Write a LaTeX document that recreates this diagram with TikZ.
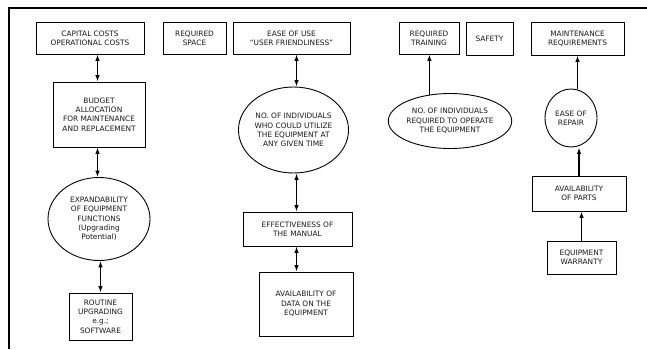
\documentclass[tikz,border=0pt]{standalone}
\usepackage{fontspec}
\setmainfont{DejaVu Sans}
\usetikzlibrary{shapes.geometric,arrows.meta}
\begin{document}
\begin{tikzpicture}[x=1pt,y=-1pt,
  lbl/.style={font=\fontsize{7.4}{9.3}\selectfont, align=center, inner sep=0pt, text=black!90},
  boxnode/.style={lbl, draw, line width=0.9pt, rectangle},
  ellnode/.style={lbl, draw, line width=0.9pt, ellipse},
  tip/.tip={Latex[length=6.5pt,width=4.6pt]},
  dbl/.style={line width=1.3pt, tip-tip},
  one/.style={line width=1.3pt, -tip}]
\useasboundingbox (0,0) rectangle (647,349);
\fill[white] (0,0) rectangle (647,349);
% frame
\draw[line width=2pt] (9,349) -- (9,8) -- (647,8);
% top row
\node[boxnode, minimum width=108pt, minimum height=32pt] (cap) at (90,38) {CAPITAL COSTS\\OPERATIONAL COSTS};
\node[boxnode, minimum width=63pt, minimum height=32pt] (space) at (194.5,38) {REQUIRED\\SPACE};
\node[boxnode, minimum width=117pt, minimum height=32pt] (ease) at (291.5,38) {EASE OF USE\\``USER FRIENDLINESS''};
\node[boxnode, minimum width=60pt, minimum height=32pt] (train) at (429,38) {REQUIRED\\TRAINING};
\node[boxnode, minimum width=47pt, minimum height=33pt] (safety) at (489.5,38.5) {SAFETY};
\node[boxnode, minimum width=93pt, minimum height=33pt] (maint) at (577.5,38.5) {MAINTENANCE\\REQUIREMENTS};
% left column
\node[boxnode, minimum width=92pt, minimum height=65pt] (budget) at (99,114.5) {BUDGET\\ALLOCATION\\FOR MAINTENANCE\\AND REPLACEMENT};
\node[ellnode, minimum width=102pt, minimum height=83pt] (expand) at (99,219) {EXPANDABILITY\\OF EQUIPMENT\\FUNCTIONS\\(Upgrading\\Potential)};
\node[boxnode, minimum width=63pt, minimum height=47pt] (routine) at (100.5,316.5) {ROUTINE\\UPGRADING\\e.g.;\\SOFTWARE};
% middle column
\node[ellnode, minimum width=94pt, minimum height=86pt] (noind) at (293.5,130) {NO. OF INDIVIDUALS\\WHO COULD UTILIZE\\THE EQUIPMENT AT\\ANY GIVEN TIME};
\node[boxnode, minimum width=109pt, minimum height=34pt] (effect) at (297.5,229) {EFFECTIVENESS OF\\THE MANUAL};
\node[boxnode, minimum width=94pt, minimum height=64pt] (data) at (306,304) {AVAILABILITY OF\\DATA ON THE\\EQUIPMENT};
% right part
\node[ellnode, minimum width=116pt, minimum height=55pt] (req) at (450,121) {NO. OF INDIVIDUALS\\REQUIRED TO OPERATE\\THE EQUIPMENT};
\node[ellnode, minimum width=52pt, minimum height=58pt] (repair) at (571,118) {EASE OF\\REPAIR};
\node[boxnode, minimum width=94pt, minimum height=35pt] (parts) at (579,193.5) {AVAILABILITY\\OF PARTS};
\node[boxnode, minimum width=69pt, minimum height=33pt] (warranty) at (581.5,257.5) {EQUIPMENT\\WARRANTY};
% connector guide coordinates
\coordinate (axl) at (97.5,0);
\coordinate (axm) at (296.5,0);
% connectors
\draw[dbl] (cap.south -| axl) -- (budget.north -| axl);
\draw[dbl] (budget.south -| axl) -- (expand.north -| axl);
\draw[dbl] (expand.south -| routine.north) -- (routine.north);
\draw[dbl] (ease.south -| axm) -- (noind.north -| axm);
\draw[dbl] (noind.south -| axm) -- (effect.north -| axm);
\draw[dbl] (effect.south -| axm) -- (data.north -| axm);
\draw[one] (req.128) -- (req.128 |- train.south);
\draw[one] (repair.north -| maint.south) -- (maint.south);
\draw[one] (parts.north) -- (parts.north |- repair.south);
\draw[one] (warranty.north) -- (warranty.north |- parts.south);
\end{tikzpicture}
\end{document}
